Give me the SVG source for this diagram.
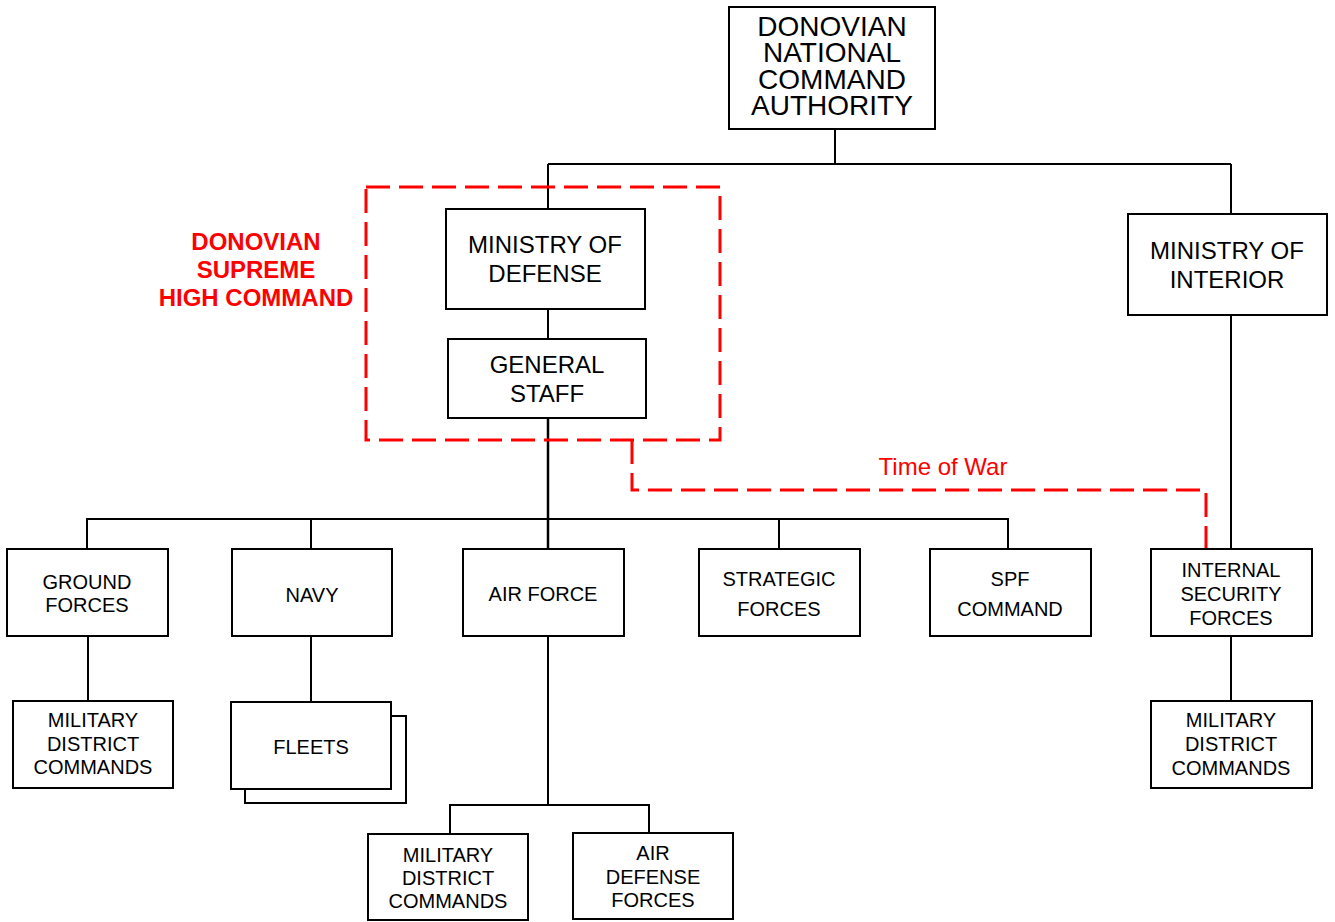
<svg xmlns="http://www.w3.org/2000/svg" width="1335" height="922" viewBox="0 0 1335 922">
<style>
.box{fill:#fff;stroke:#000;stroke-width:2}
.ln{fill:none;stroke:#000;stroke-width:2}
.spine{fill:none;stroke:#000;stroke-width:2.5}
.dash{fill:none;stroke:#ff0000;stroke-width:3;stroke-dasharray:24 9}
text{font-family:"Liberation Sans",Arial,sans-serif;text-anchor:middle;fill:#000}
.t28{font-size:28px}
.t24{font-size:24px}
.t20{font-size:20px}
.red{fill:#ff0000;font-size:24px}
.redb{fill:#ff0000;font-size:24px;font-weight:bold}
</style>
<rect width="1335" height="922" fill="#fff"/>
<g id="connectors">
<path class="ln" d="M835 129V164M548 164H1231M548 164V209M1231 164V214"/>
<path class="ln" d="M548 309V339"/>
<path class="spine" d="M548 418V549"/>
<path class="ln" d="M87 549V519H1008V549M311 519V549M779 519V549"/>
<path class="ln" d="M1231 315V549"/>
<path class="ln" d="M88 636V701M311 636V702M1231 636V701"/>
<path class="ln" d="M548 636V805M450 834V805H649V833"/>
</g>
<g id="supreme-high-command">
<rect class="dash" x="366" y="187" width="354" height="253"/>
<text class="redb" x="256" y="250">DONOVIAN</text>
<text class="redb" x="256" y="278">SUPREME</text>
<text class="redb" x="256" y="306">HIGH COMMAND</text>
</g>
<g id="time-of-war">
<path class="dash" d="M632 440V490H1206V549"/>
<text class="red" x="943" y="475">Time of War</text>
</g>
<g id="dnca">
<rect class="box" x="729" y="7" width="206" height="122"/>
<text class="t28" x="832" y="36">DONOVIAN</text>
<text class="t28" x="832" y="62">NATIONAL</text>
<text class="t28" x="832" y="89">COMMAND</text>
<text class="t28" x="832" y="115">AUTHORITY</text>
</g>
<g id="mod">
<rect class="box" x="446" y="209" width="199" height="100"/>
<text class="t24" x="545" y="253">MINISTRY OF</text>
<text class="t24" x="545" y="282">DEFENSE</text>
</g>
<g id="general-staff">
<rect class="box" x="448" y="339" width="198" height="79"/>
<text class="t24" x="547" y="373">GENERAL</text>
<text class="t24" x="547" y="402">STAFF</text>
</g>
<g id="moi">
<rect class="box" x="1128" y="214" width="199" height="101"/>
<text class="t24" x="1227" y="259">MINISTRY OF</text>
<text class="t24" x="1227" y="288">INTERIOR</text>
</g>
<g id="ground-forces">
<rect class="box" x="7" y="549" width="161" height="87"/>
<text class="t20" x="87" y="589">GROUND</text>
<text class="t20" x="87" y="612">FORCES</text>
</g>
<g id="navy">
<rect class="box" x="232" y="549" width="160" height="87"/>
<text class="t20" x="312" y="602">NAVY</text>
</g>
<g id="air-force">
<rect class="box" x="463" y="549" width="161" height="87"/>
<text class="t20" x="543" y="601">AIR FORCE</text>
</g>
<g id="strategic-forces">
<rect class="box" x="699" y="549" width="161" height="87"/>
<text class="t20" x="779" y="586">STRATEGIC</text>
<text class="t20" x="779" y="616">FORCES</text>
</g>
<g id="spf-command">
<rect class="box" x="930" y="549" width="161" height="87"/>
<text class="t20" x="1010" y="586">SPF</text>
<text class="t20" x="1010" y="616">COMMAND</text>
</g>
<g id="isf">
<rect class="box" x="1151" y="549" width="161" height="87"/>
<text class="t20" x="1231" y="577">INTERNAL</text>
<text class="t20" x="1231" y="601">SECURITY</text>
<text class="t20" x="1231" y="625">FORCES</text>
</g>
<g id="mdc-ground">
<rect class="box" x="13" y="701" width="160" height="87"/>
<text class="t20" x="93" y="727">MILITARY</text>
<text class="t20" x="93" y="751">DISTRICT</text>
<text class="t20" x="93" y="774">COMMANDS</text>
</g>
<g id="fleets">
<rect class="box" x="245" y="716" width="161" height="87"/>
<rect class="box" x="231" y="702" width="160" height="87"/>
<text class="t20" x="311" y="754">FLEETS</text>
</g>
<g id="mdc-air">
<rect class="box" x="368" y="834" width="160" height="86"/>
<text class="t20" x="448" y="862">MILITARY</text>
<text class="t20" x="448" y="885">DISTRICT</text>
<text class="t20" x="448" y="908">COMMANDS</text>
</g>
<g id="air-defense">
<rect class="box" x="573" y="833" width="160" height="86"/>
<text class="t20" x="653" y="860">AIR</text>
<text class="t20" x="653" y="884">DEFENSE</text>
<text class="t20" x="653" y="907">FORCES</text>
</g>
<g id="mdc-isf">
<rect class="box" x="1151" y="701" width="161" height="87"/>
<text class="t20" x="1231" y="727">MILITARY</text>
<text class="t20" x="1231" y="751">DISTRICT</text>
<text class="t20" x="1231" y="775">COMMANDS</text>
</g>
</svg>
